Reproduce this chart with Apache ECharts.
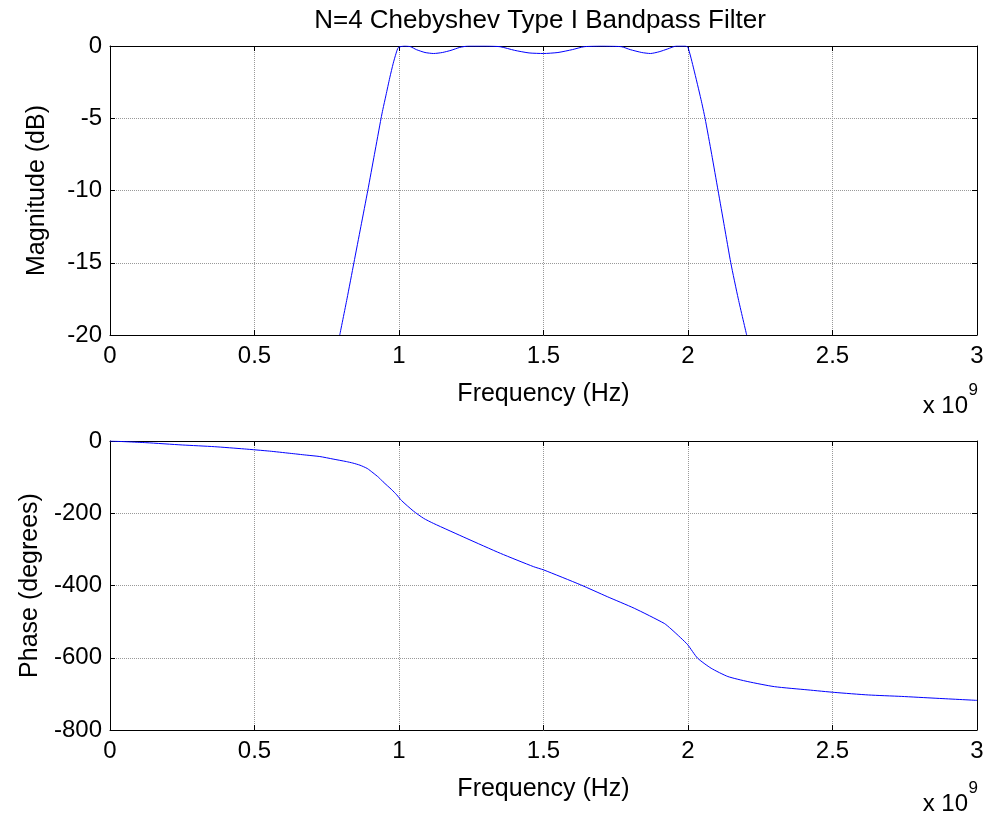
<!DOCTYPE html>
<html>
<head>
<meta charset="utf-8">
<script src="https://cdn.jsdelivr.net/npm/echarts@6/dist/echarts.min.js"></script>
<style>
html,body{margin:0;padding:0;background:#fff;}
#chart{width:993px;height:816px;}
</style>
</head>
<body>
<div id="chart"></div>
<script>
// Frequencies in Hz
var magFreq = [0.795e9, 0.82e9, 0.844e9, 0.868e9, 0.892e9, 0.915e9, 0.938e9, 0.944e9, 0.955e9, 0.968e9, 0.98e9, 0.99e9, 0.998e9,
  1.02e9, 1.04e9, 1.06e9, 1.09e9, 1.12e9, 1.15e9, 1.18e9, 1.21e9, 1.24e9, 1.30e9, 1.35e9, 1.40e9, 1.45e9, 1.50e9,
  1.55e9, 1.60e9, 1.64e9, 1.70e9, 1.77e9, 1.80e9, 1.84e9, 1.87e9, 1.90e9, 1.93e9, 1.96e9, 1.99e9, 2.0e9, 2.02e9,
  2.045e9, 2.059e9, 2.082e9, 2.104e9, 2.126e9, 2.148e9, 2.174e9, 2.203e9];
var magDb = [-20, -17.5, -15, -12.5, -10, -7.5, -5, -4.4, -3.4, -2.2, -1.2, -0.5, -0.1,
  0, -0.05, -0.25, -0.45, -0.52, -0.45, -0.3, -0.1, 0, 0, -0.05, -0.3, -0.48, -0.52,
  -0.45, -0.25, -0.05, 0, -0.05, -0.25, -0.45, -0.52, -0.4, -0.2, 0, 0, -0.1, -1.6,
  -3.7, -5, -7.5, -10, -12.5, -15, -17.5, -20];

var phaseFreq = [0, 0.124e9, 0.25e9, 0.361e9, 0.465e9, 0.552e9, 0.622e9, 0.679e9, 0.726e9, 0.772e9, 0.818e9,
  0.84e9, 0.865e9, 0.89e9, 0.91e9, 0.93e9, 0.945e9, 0.975e9, 0.992e9, 1.009e9, 1.05e9, 1.085e9, 1.119e9, 1.235e9, 1.351e9, 1.466e9,
  1.501e9, 1.628e9, 1.721e9, 1.814e9, 1.918e9, 1.941e9, 1.975e9, 1.999e9, 2.033e9, 2.08e9, 2.138e9, 2.207e9,
  2.299e9, 2.415e9, 2.508e9, 2.624e9, 2.738e9, 2.855e9, 3.0e9];
var phaseDeg = [0, -4.6, -11, -15.7, -22, -28, -34, -39, -43, -50, -57,
  -61, -67, -76, -88, -101, -113, -135, -149, -165, -194, -214, -228, -270, -311, -348,
  -357, -398, -431, -463, -505, -520, -545, -564, -601, -629, -652, -666,
  -680, -689, -696, -703, -707, -712, -718];

var titleText = 'N=4 Chebyshev Type I Bandpass Filter';
var xName = 'Frequency (Hz)';
var magName = 'Magnitude (dB)';
var phaseName = 'Phase (degrees)';

function zip(a, b) { return a.map(function (v, i) { return [v, b[i]]; }); }

var FONT = 'Liberation Sans, Arial, sans-serif';
var gridLine = { show: true, lineStyle: { color: '#999', type: 'dotted', width: 1 } };
var axLine = { show: true, onZero: false, lineStyle: { color: '#000', width: 1 } };
var tick = { show: true, inside: true, length: 5, lineStyle: { color: '#000' } };

function xAxisPair(gi) {
  return [{
    type: 'value', gridIndex: gi, position: 'bottom', min: 0, max: 3e9, interval: 0.5e9,
    axisLine: axLine, axisTick: tick, splitLine: gridLine,
    axisLabel: { color: '#000', fontSize: 24, fontFamily: FONT, margin: 9,
      formatter: function (v) { return String(+(v / 1e9).toFixed(2)); } },
    name: xName, nameLocation: 'middle', nameGap: 47,
    nameTextStyle: { color: '#000', fontSize: 25, fontFamily: FONT }
  }, {
    type: 'value', gridIndex: gi, position: 'top', min: 0, max: 3e9, interval: 0.5e9,
    axisLine: axLine, axisTick: tick, splitLine: { show: false }, axisLabel: { show: false }
  }];
}
function yAxisPair(gi, min, interval, name) {
  return [{
    type: 'value', gridIndex: gi, position: 'left', min: min, max: 0, interval: interval,
    axisLine: axLine, axisTick: tick, splitLine: gridLine,
    axisLabel: { color: '#000', fontSize: 24, fontFamily: FONT, margin: 8 },
    name: name, nameLocation: 'middle', nameGap: 60,
    nameTextStyle: { color: '#000', fontSize: 25, fontFamily: FONT }
  }, {
    type: 'value', gridIndex: gi, position: 'right', min: min, max: 0, interval: interval,
    axisLine: axLine, axisTick: tick, splitLine: { show: false }, axisLabel: { show: false }
  }];
}

var chart = echarts.init(document.getElementById('chart'), null, { renderer: 'canvas' });
chart.setOption({
  backgroundColor: '#fff',
  animation: false,
  title: {
    text: titleText, left: 535, top: 3, textAlign: 'center',
    textStyle: { color: '#000', fontSize: 26, fontWeight: 'normal', fontFamily: FONT }
  },
  grid: [
    { left: 110, right: 16, top: 46, height: 289 },
    { left: 110, right: 16, top: 441, height: 289 }
  ],
  xAxis: xAxisPair(0).concat(xAxisPair(1)),
  yAxis: yAxisPair(0, -20, 5, magName).concat(yAxisPair(1, -800, 200, phaseName)),
  series: [{
    type: 'line', xAxisIndex: 0, yAxisIndex: 0, data: zip(magFreq, magDb),
    showSymbol: false, smooth: 0.2, clip: true,
    lineStyle: { color: '#0000ff', width: 1 }
  }, {
    type: 'line', xAxisIndex: 2, yAxisIndex: 2, data: zip(phaseFreq, phaseDeg),
    showSymbol: false, smooth: 0.2, clip: true,
    lineStyle: { color: '#0000ff', width: 1 }
  }],
  graphic: [
    { type: 'text', right: 25, top: 394, style: { text: 'x 10', fill: '#000', font: '24px ' + FONT } },
    { type: 'text', right: 15, top: 382, style: { text: '9', fill: '#000', font: '17px ' + FONT } },
    { type: 'text', right: 25, top: 792, style: { text: 'x 10', fill: '#000', font: '24px ' + FONT } },
    { type: 'text', right: 15, top: 780, style: { text: '9', fill: '#000', font: '17px ' + FONT } }
  ]
});
</script>
</body>
</html>
